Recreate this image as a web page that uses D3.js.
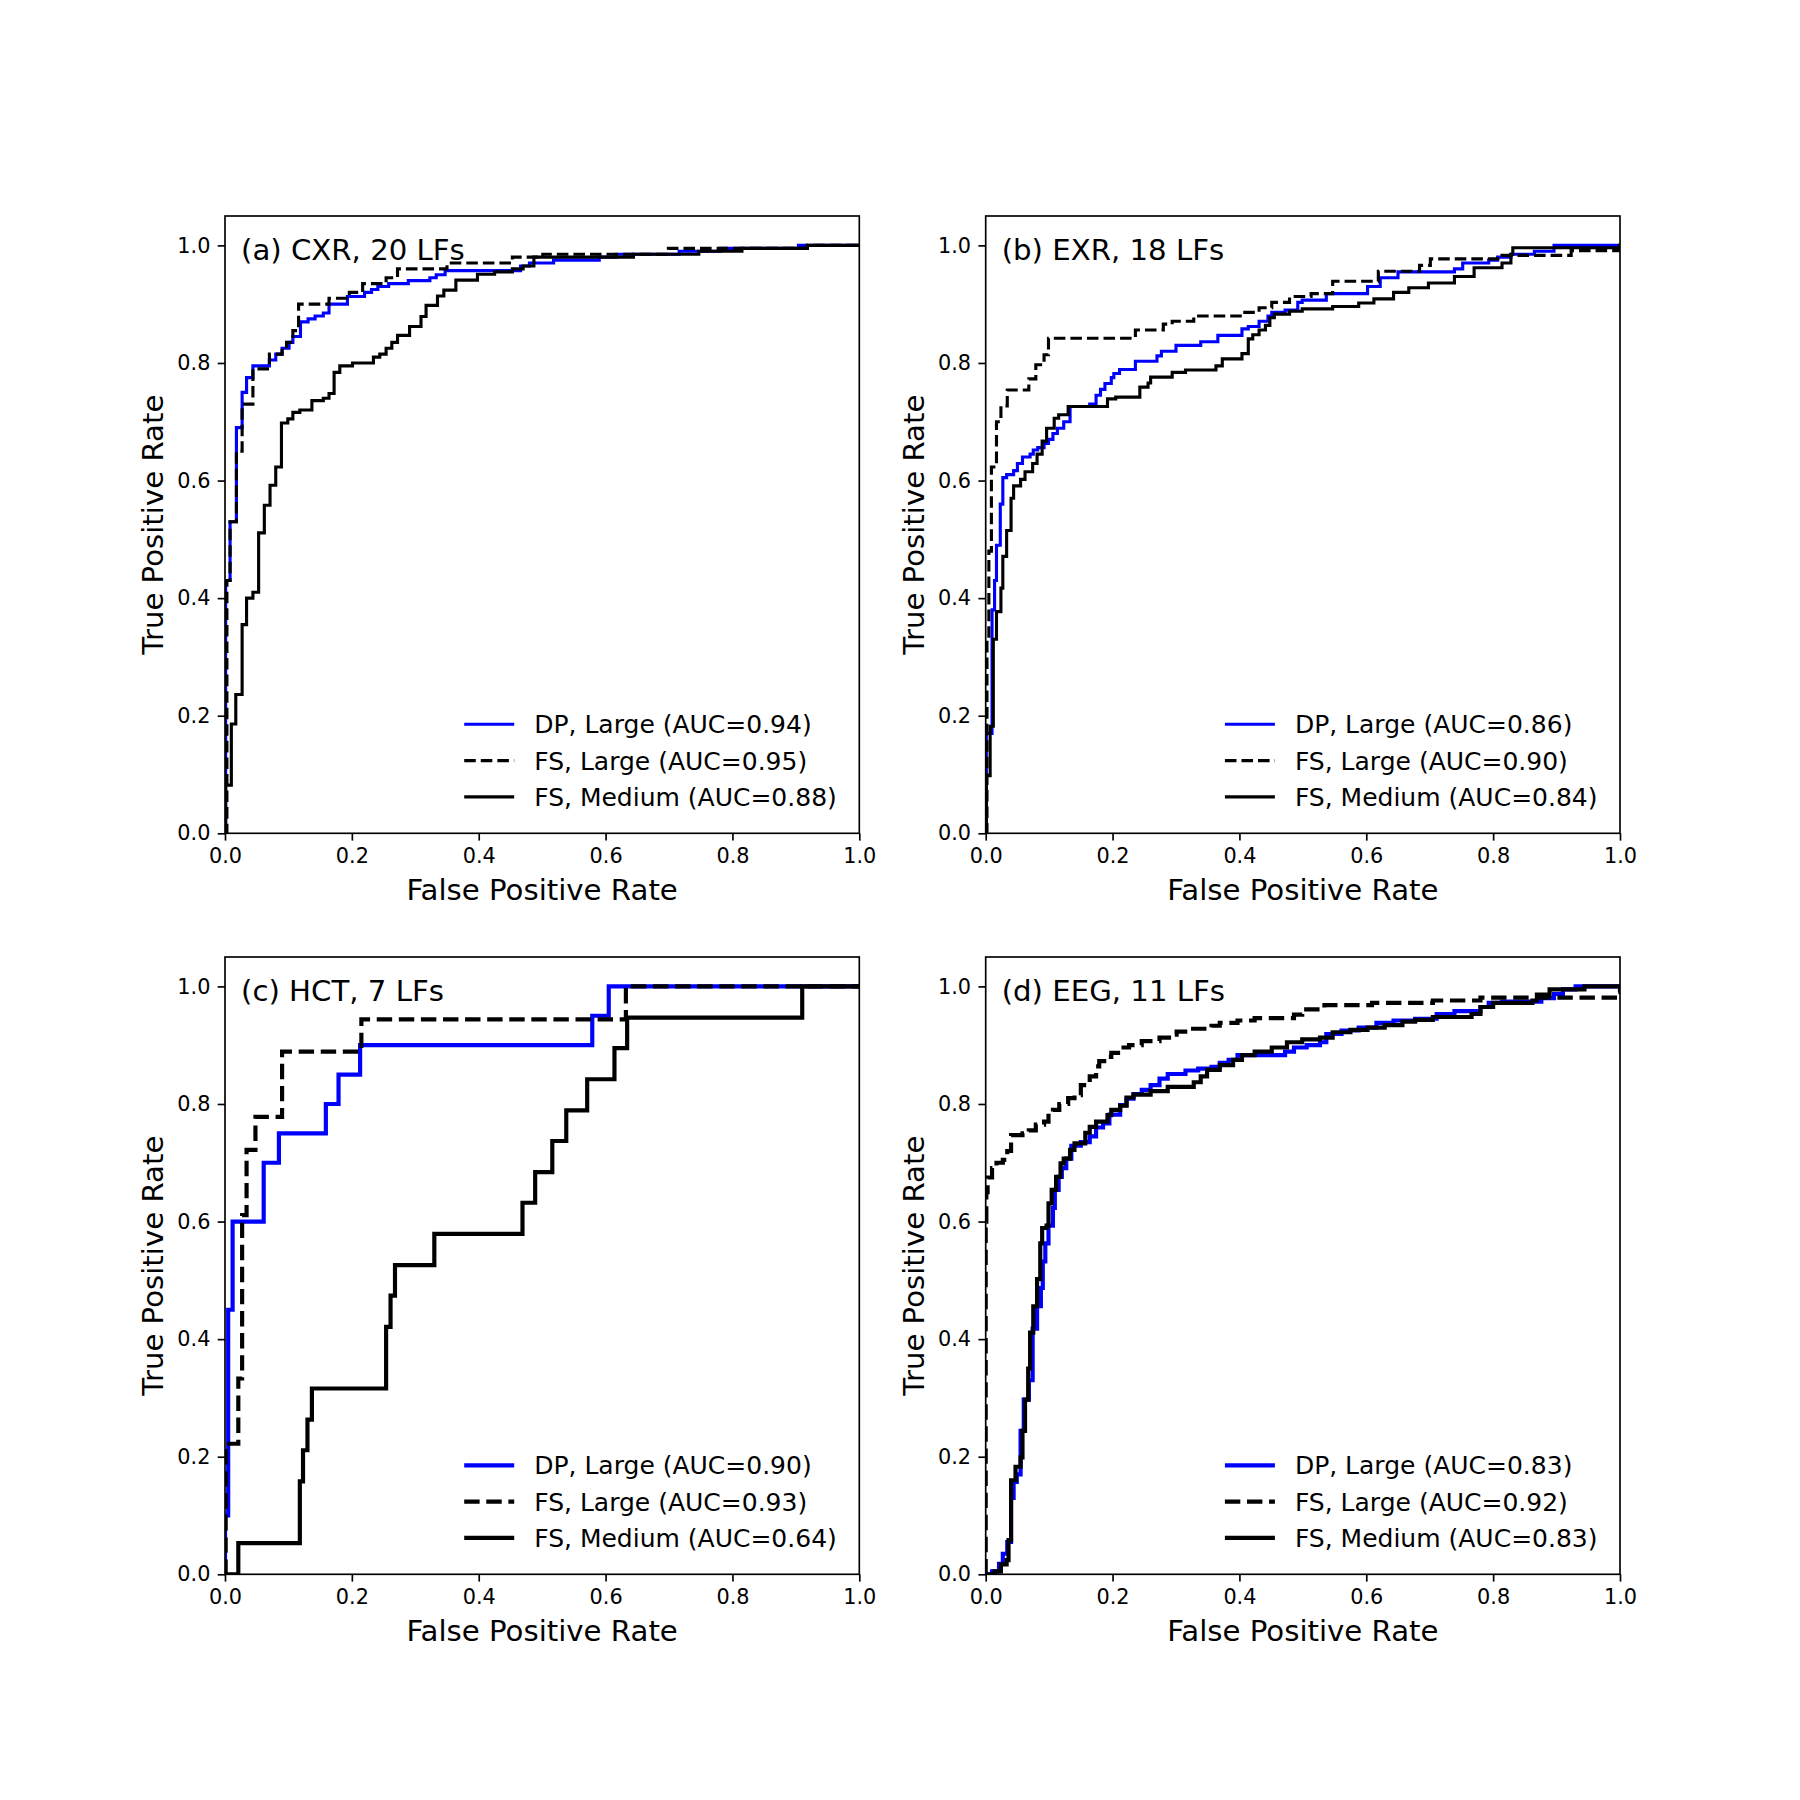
<!DOCTYPE html>
<html>
<head>
<meta charset="utf-8">
<script src="https://cdnjs.cloudflare.com/ajax/libs/d3/7.8.5/d3.min.js"></script>
<style>
    body { margin: 0; background: #fff; }
    svg text { font-family: "DejaVu Sans", sans-serif; fill: #000; }
</style>
</head>
<body>
<div id="chart"></div>
<script>

// panel titles and legend texts
let panelTitles = ["(a) CXR, 20 LFs", "(b) EXR, 18 LFs", "(c) HCT, 7 LFs", "(d) EEG, 11 LFs"];
let seriesNames = ["DP, Large", "FS, Large", "FS, Medium"];
let aucDP = [0.94, 0.86, 0.90, 0.83];
let aucFSL = [0.95, 0.90, 0.93, 0.92];
let aucFSM = [0.88, 0.84, 0.64, 0.83];
let tickValues = [0, 0.2, 0.4, 0.6, 0.8, 1.0];

// ROC points [fpr, tpr]

// (a) CXR
let cxrDP = [[0,0],[0.001,0.43],[0.008,0.53],[0.018,0.69],[0.027,0.75],[0.034,0.775],[0.044,0.795],[0.070,0.805],[0.080,0.815],[0.090,0.825],[0.101,0.835],[0.107,0.845],[0.119,0.87],[0.131,0.875],[0.142,0.88],[0.155,0.885],[0.164,0.90],[0.193,0.913],[0.220,0.92],[0.231,0.925],[0.241,0.93],[0.258,0.935],[0.289,0.94],[0.323,0.945],[0.333,0.95],[0.347,0.957],[0.466,0.965],[0.480,0.97],[0.518,0.975],[0.590,0.98],[0.617,0.985],[0.716,0.99],[0.781,0.995],[0.904,1.0],[1.0,1.0]];
let cxrFSL = [[0,0],[0.003,0.43],[0.008,0.53],[0.018,0.65],[0.027,0.73],[0.044,0.79],[0.070,0.815],[0.090,0.825],[0.097,0.835],[0.107,0.855],[0.116,0.90],[0.164,0.91],[0.196,0.92],[0.217,0.935],[0.254,0.945],[0.272,0.96],[0.350,0.97],[0.453,0.98],[0.501,0.985],[0.699,0.995],[0.918,1.0],[1.0,1.0]];
let cxrFSM = [[0,0],[0.001,0.082],[0.010,0.186],[0.017,0.236],[0.027,0.355],[0.034,0.40],[0.044,0.41],[0.053,0.511],[0.062,0.558],[0.071,0.592],[0.080,0.623],[0.089,0.698],[0.099,0.705],[0.107,0.716],[0.118,0.72],[0.137,0.736],[0.155,0.74],[0.164,0.748],[0.172,0.784],[0.181,0.795],[0.201,0.80],[0.234,0.81],[0.244,0.815],[0.254,0.825],[0.263,0.835],[0.272,0.847],[0.291,0.862],[0.309,0.879],[0.317,0.898],[0.335,0.914],[0.345,0.924],[0.364,0.941],[0.398,0.951],[0.425,0.955],[0.453,0.96],[0.470,0.965],[0.487,0.98],[0.644,0.985],[0.747,0.99],[0.815,0.995],[0.918,1.0],[1.0,1.0]];

// (b) EXR
let exrDP = [[0,0],[0.001,0.17],[0.010,0.38],[0.014,0.43],[0.017,0.49],[0.023,0.56],[0.027,0.605],[0.033,0.61],[0.044,0.617],[0.050,0.629],[0.058,0.64],[0.070,0.645],[0.075,0.652],[0.082,0.656],[0.092,0.663],[0.099,0.67],[0.106,0.68],[0.113,0.689],[0.123,0.70],[0.133,0.726],[0.164,0.73],[0.174,0.745],[0.181,0.755],[0.188,0.765],[0.198,0.775],[0.202,0.782],[0.211,0.789],[0.236,0.803],[0.270,0.812],[0.277,0.82],[0.300,0.83],[0.339,0.836],[0.366,0.847],[0.404,0.858],[0.414,0.862],[0.431,0.871],[0.445,0.88],[0.451,0.886],[0.472,0.89],[0.492,0.903],[0.499,0.907],[0.537,0.918],[0.602,0.93],[0.622,0.945],[0.650,0.955],[0.739,0.96],[0.752,0.97],[0.793,0.975],[0.807,0.98],[0.828,0.985],[0.865,0.99],[0.896,1.0],[1.0,1.0]];
let exrFSL = [[0,0],[0.002,0.33],[0.005,0.48],[0.009,0.623],[0.017,0.70],[0.024,0.727],[0.034,0.754],[0.068,0.773],[0.079,0.797],[0.092,0.814],[0.099,0.842],[0.236,0.856],[0.280,0.866],[0.294,0.871],[0.328,0.88],[0.404,0.886],[0.431,0.894],[0.451,0.903],[0.479,0.913],[0.513,0.918],[0.547,0.939],[0.619,0.956],[0.684,0.966],[0.701,0.977],[0.814,0.983],[0.923,0.991],[0.999,1.0],[1.0,1.0]];
let exrFSM = [[0,0],[0.001,0.098],[0.007,0.182],[0.012,0.33],[0.017,0.377],[0.024,0.417],[0.027,0.471],[0.033,0.515],[0.040,0.57],[0.044,0.591],[0.055,0.602],[0.062,0.615],[0.074,0.629],[0.081,0.645],[0.089,0.667],[0.096,0.689],[0.108,0.706],[0.115,0.712],[0.130,0.726],[0.192,0.739],[0.205,0.742],[0.243,0.759],[0.256,0.766],[0.260,0.776],[0.294,0.784],[0.315,0.788],[0.363,0.795],[0.373,0.807],[0.404,0.816],[0.414,0.841],[0.421,0.848],[0.431,0.856],[0.441,0.864],[0.448,0.877],[0.455,0.883],[0.479,0.888],[0.499,0.892],[0.547,0.896],[0.588,0.902],[0.612,0.909],[0.643,0.92],[0.667,0.928],[0.698,0.936],[0.739,0.947],[0.770,0.962],[0.814,0.97],[0.828,0.985],[0.831,0.996],[0.999,1.0],[1.0,1.0]];

// (c) HCT
let hctDP = [[0,0],[0,0.10],[0.005,0.45],[0.012,0.60],[0.061,0.70],[0.085,0.75],[0.159,0.80],[0.179,0.85],[0.213,0.90],[0.579,0.95],[0.605,1.0],[1.0,1.0]];
let hctFSL = [[0,0],[0.001,0.222],[0.021,0.333],[0.027,0.611],[0.034,0.722],[0.048,0.778],[0.090,0.889],[0.215,0.944],[0.632,1.0],[1.0,1.0]];
let hctFSM = [[0,0],[0.021,0.053],[0.118,0.158],[0.123,0.211],[0.130,0.263],[0.137,0.316],[0.254,0.421],[0.261,0.474],[0.268,0.526],[0.330,0.579],[0.469,0.632],[0.489,0.684],[0.516,0.737],[0.538,0.789],[0.571,0.842],[0.614,0.895],[0.634,0.947],[0.910,1.0],[1.0,1.0]];

// (d) EEG
let eegDP = [[0,0],[0.010,0.005],[0.021,0.018],[0.027,0.035],[0.034,0.055],[0.040,0.13],[0.044,0.157],[0.049,0.17],[0.055,0.244],[0.060,0.297],[0.068,0.33],[0.074,0.418],[0.081,0.456],[0.087,0.487],[0.090,0.532],[0.094,0.563],[0.099,0.593],[0.106,0.623],[0.109,0.654],[0.115,0.676],[0.120,0.691],[0.127,0.707],[0.135,0.729],[0.150,0.735],[0.164,0.745],[0.174,0.76],[0.185,0.767],[0.195,0.782],[0.212,0.798],[0.222,0.809],[0.233,0.817],[0.246,0.824],[0.260,0.832],[0.274,0.843],[0.287,0.851],[0.315,0.857],[0.335,0.86],[0.356,0.863],[0.369,0.87],[0.383,0.875],[0.397,0.883],[0.472,0.889],[0.486,0.896],[0.506,0.90],[0.527,0.905],[0.537,0.919],[0.561,0.925],[0.588,0.93],[0.616,0.938],[0.643,0.942],[0.677,0.945],[0.711,0.953],[0.739,0.958],[0.780,0.965],[0.793,0.972],[0.814,0.974],[0.876,0.98],[0.896,0.987],[0.910,0.995],[0.930,1.0],[1.0,1.0]];
let eegFSL = [[0,0],[0,0.60],[0.001,0.65],[0.003,0.675],[0.010,0.691],[0.017,0.70],[0.027,0.705],[0.034,0.72],[0.040,0.747],[0.058,0.75],[0.068,0.755],[0.079,0.765],[0.092,0.77],[0.099,0.785],[0.106,0.79],[0.116,0.80],[0.130,0.81],[0.140,0.815],[0.150,0.832],[0.164,0.847],[0.174,0.864],[0.179,0.873],[0.192,0.88],[0.198,0.887],[0.212,0.896],[0.226,0.90],[0.246,0.907],[0.274,0.913],[0.294,0.918],[0.301,0.923],[0.321,0.928],[0.356,0.933],[0.369,0.938],[0.397,0.942],[0.424,0.946],[0.486,0.952],[0.499,0.961],[0.534,0.968],[0.609,0.972],[0.705,0.976],[0.780,0.981],[0.992,0.99],[1.0,1.0]];
let eegFSM = [[0,0],[0.014,0.005],[0.024,0.017],[0.033,0.024],[0.036,0.058],[0.040,0.16],[0.047,0.183],[0.055,0.199],[0.058,0.244],[0.062,0.297],[0.067,0.35],[0.070,0.411],[0.075,0.456],[0.081,0.502],[0.086,0.563],[0.089,0.589],[0.096,0.593],[0.099,0.631],[0.104,0.654],[0.111,0.676],[0.118,0.699],[0.123,0.707],[0.133,0.722],[0.140,0.733],[0.157,0.751],[0.164,0.761],[0.174,0.77],[0.192,0.781],[0.198,0.79],[0.212,0.797],[0.222,0.811],[0.233,0.816],[0.260,0.822],[0.287,0.829],[0.328,0.837],[0.339,0.847],[0.349,0.858],[0.369,0.866],[0.390,0.875],[0.404,0.883],[0.424,0.889],[0.451,0.896],[0.475,0.905],[0.499,0.91],[0.527,0.913],[0.547,0.922],[0.575,0.926],[0.602,0.93],[0.629,0.934],[0.657,0.94],[0.677,0.943],[0.705,0.948],[0.766,0.953],[0.780,0.965],[0.800,0.972],[0.862,0.976],[0.869,0.986],[0.889,0.995],[0.944,1.0],[1.0,1.0]];


/* * * * * * * * * * * * * *
*      class RocVis        *
* * * * * * * * * * * * * */

class RocVis {

    constructor(svg, id, left, top, title, dp, fsl, fsm, aucs, lineWidth) {
        this.svg = svg;
        this.id = id;
        this.left = left;
        this.top = top;
        this.title = title;
        this.series = [dp, fsl, fsm];
        this.aucs = aucs;
        this.lineWidth = lineWidth;

        this.initVis();
    }

    initVis() {
        let vis = this;

        vis.width = 634.3;
        vis.height = 617.3;

        vis.g = vis.svg.append("g")
            .attr("transform", `translate(${vis.left}, ${vis.top})`);

        // scales - matplotlib keeps a 5% headroom above tpr = 1
        vis.x = d3.scaleLinear().domain([0, 1]).range([0, vis.width]);
        vis.y = d3.scaleLinear().domain([0, 1.05]).range([vis.height, 0]);

        vis.g.append("clipPath")
            .attr("id", "clip-" + vis.id)
            .append("rect")
            .attr("width", vis.width)
            .attr("height", vis.height);

        // axes
        vis.xAxis = d3.axisBottom(vis.x)
            .tickValues(tickValues)
            .tickFormat(d3.format(".1f"))
            .tickSize(7.3)
            .tickPadding(7.3);

        vis.yAxis = d3.axisLeft(vis.y)
            .tickValues(tickValues)
            .tickFormat(d3.format(".1f"))
            .tickSize(7.3)
            .tickPadding(7.3);

        let xg = vis.g.append("g")
            .attr("class", "x-axis axis")
            .attr("transform", "translate(0," + vis.height + ")")
            .call(vis.xAxis);

        let yg = vis.g.append("g")
            .attr("class", "y-axis axis")
            .call(vis.yAxis);

        [xg, yg].forEach(ax => {
            ax.select(".domain").remove();
            ax.attr("font-family", null).attr("font-size", null);
            ax.selectAll(".tick line").attr("stroke", "#000").attr("stroke-width", 1.67);
            ax.selectAll(".tick text").style("font-size", "20.8px");
        });

        // axis labels
        vis.g.append("text")
            .attr("x", vis.width / 2)
            .attr("y", vis.height + 66.5)
            .attr("text-anchor", "middle")
            .style("font-size", "29.2px")
            .text("False Positive Rate");

        vis.g.append("text")
            .attr("transform", `translate(-62, ${vis.height / 2}) rotate(-90)`)
            .attr("text-anchor", "middle")
            .style("font-size", "29.2px")
            .text("True Positive Rate");

        vis.updateVis();
    }

    updateVis() {
        let vis = this;

        let line = d3.line()
            .x(d => vis.x(d[0]))
            .y(d => vis.y(d[1]))
            .curve(d3.curveStepAfter);

        // matplotlib "--" pattern scales with the line width
        let styles = [
            {color: "#0000ff", dash: null},
            {color: "#000000", dash: [3.7 * vis.lineWidth, 1.6 * vis.lineWidth]},
            {color: "#000000", dash: null}
        ];

        vis.g.append("g")
            .attr("clip-path", `url(#clip-${vis.id})`)
            .selectAll(".roc")
            .data(vis.series)
            .enter()
            .append("path")
            .attr("class", "roc")
            .attr("d", d => line(d))
            .attr("fill", "none")
            .attr("stroke", (d, i) => styles[i].color)
            .attr("stroke-width", vis.lineWidth)
            .attr("stroke-dasharray", (d, i) => styles[i].dash ? styles[i].dash.join(",") : null);

        // frame
        vis.g.append("rect")
            .attr("width", vis.width)
            .attr("height", vis.height)
            .attr("fill", "none")
            .attr("stroke", "#000")
            .attr("stroke-width", 1.67);

        // panel title inside the axes
        vis.g.append("text")
            .attr("x", 16)
            .attr("y", 44)
            .style("font-size", "29.2px")
            .text(vis.title);

        // legend, lower right, no frame
        let labels = seriesNames.map((n, i) => `${n} (AUC=${vis.aucs[i].toFixed(2)})`);
        let legend = vis.g.append("g").attr("class", "legend");

        let texts = legend.selectAll("text")
            .data(labels)
            .enter()
            .append("text")
            .attr("y", (d, i) => vis.height - 109 + i * 36.3)
            .attr("dy", "0.36em")
            .style("font-size", "25px")
            .text(d => d);

        let maxLen = d3.max(texts.nodes(), n => n.getComputedTextLength());
        let textStart = vis.width - 22.5 - maxLen;
        texts.attr("x", textStart);

        legend.selectAll("line")
            .data(labels)
            .enter()
            .append("line")
            .attr("x1", textStart - 20 - 50)
            .attr("x2", textStart - 20)
            .attr("y1", (d, i) => vis.height - 109 + i * 36.3)
            .attr("y2", (d, i) => vis.height - 109 + i * 36.3)
            .attr("stroke", (d, i) => styles[i].color)
            .attr("stroke-width", vis.lineWidth)
            .attr("stroke-dasharray", (d, i) => styles[i].dash ? styles[i].dash.join(",") : null);
    }
}

let svg = d3.select("#chart").append("svg")
    .attr("width", 1800)
    .attr("height", 1800);

// line width 1.5pt in the top row, 2pt in the bottom row (at 150 dpi)
new RocVis(svg, "a", 225, 216, panelTitles[0], cxrDP, cxrFSL, cxrFSM, [aucDP[0], aucFSL[0], aucFSM[0]], 3.125);
new RocVis(svg, "b", 985.7, 216, panelTitles[1], exrDP, exrFSL, exrFSM, [aucDP[1], aucFSL[1], aucFSM[1]], 3.125);
new RocVis(svg, "c", 225, 957, panelTitles[2], hctDP, hctFSL, hctFSM, [aucDP[2], aucFSL[2], aucFSM[2]], 4.167);
new RocVis(svg, "d", 985.7, 957, panelTitles[3], eegDP, eegFSL, eegFSM, [aucDP[3], aucFSL[3], aucFSM[3]], 4.167);

</script>
</body>
</html>
